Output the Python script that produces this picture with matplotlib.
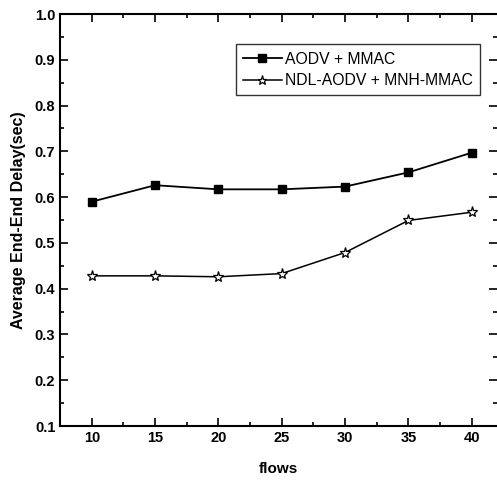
import matplotlib
matplotlib.use("Agg")
import matplotlib.pyplot as plt
from matplotlib.ticker import MultipleLocator

plt.rcParams["font.family"] = ["Liberation Sans", "DejaVu Sans"]

flows = [10, 15, 20, 25, 30, 35, 40]
aodv_mmac = [0.590, 0.626, 0.617, 0.617, 0.623, 0.654, 0.697]
ndl_mnh = [0.428, 0.428, 0.426, 0.433, 0.479, 0.549, 0.567]

fig = plt.figure(figsize=(4.97, 4.83), dpi=100)
ax = fig.add_axes([0.121, 0.118, 0.879, 0.853])

ax.plot(flows, aodv_mmac, "s-", color="black", lw=1.3, ms=6,
        label="AODV + MMAC")
ax.plot(flows, ndl_mnh, "*-", color="black", lw=1.1, ms=8, mfc="white",
        mew=0.9, label="NDL-AODV + MNH-MMAC")

ax.set_xlim(7.5, 42)
ax.set_ylim(0.1, 1.0)
ax.xaxis.set_major_locator(MultipleLocator(5))
ax.xaxis.set_minor_locator(MultipleLocator(2.5))
ax.yaxis.set_major_locator(MultipleLocator(0.1))
ax.yaxis.set_minor_locator(MultipleLocator(0.05))
ax.yaxis.set_major_formatter(plt.FormatStrFormatter("%.1f"))
ax.tick_params(which="both", direction="in", top=True, right=True,
               labelsize=10.5, width=1.2)
ax.tick_params(which="major", length=6)
ax.tick_params(which="minor", length=3)
for lbl in ax.get_xticklabels() + ax.get_yticklabels():
    lbl.set_fontweight("bold")
for s in ["left", "bottom", "top"]:
    ax.spines[s].set_linewidth(1.5)
ax.spines["right"].set_visible(False)

ax.set_xlabel("flows", fontsize=11, fontweight="bold", labelpad=12)
ax.set_ylabel("Average End-End Delay(sec)", fontsize=11.5, fontweight="bold",
              labelpad=6)

leg = ax.legend(loc="upper right", bbox_to_anchor=(0.961, 0.926),
                fontsize=11.3, frameon=True, fancybox=False,
                edgecolor="black", handlelength=2.5, borderaxespad=0,
                borderpad=0.45, handletextpad=0.2, labelspacing=0.42,
                markerscale=0.85)
leg.get_frame().set_linewidth(1.0)

fig.savefig("out.png", dpi=100)
